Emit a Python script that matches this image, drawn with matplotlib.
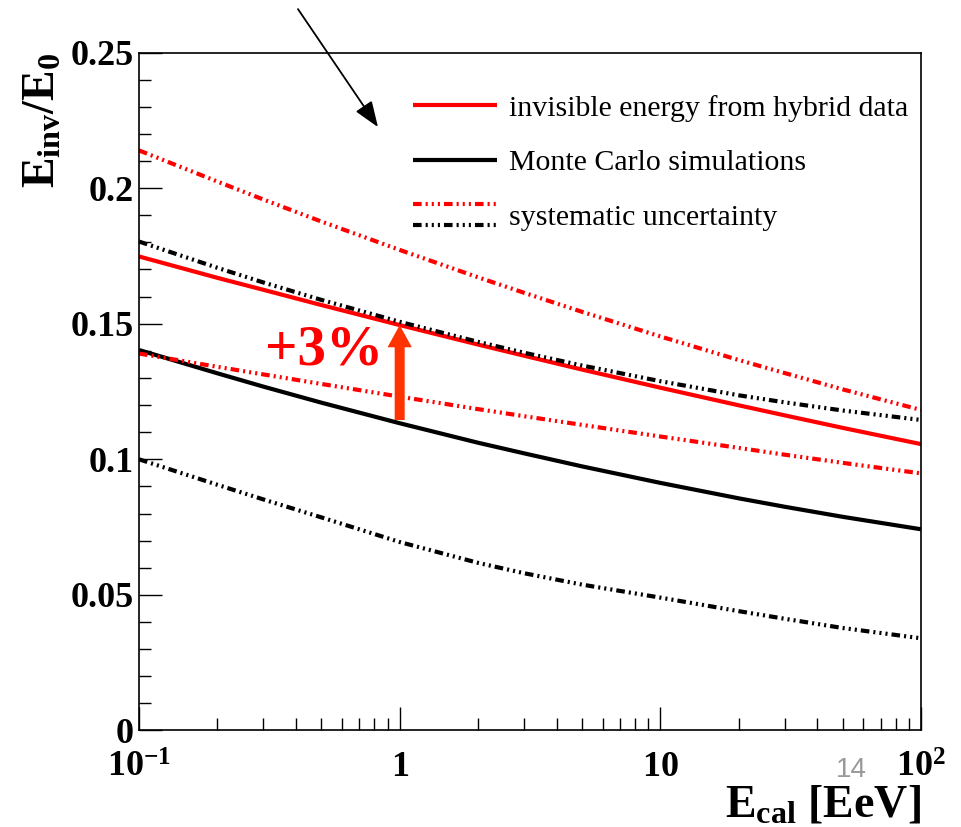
import matplotlib
matplotlib.use("Agg")
import matplotlib.pyplot as plt
from matplotlib.lines import Line2D
from matplotlib.legend_handler import HandlerBase

# ---- data -------------------------------------------------------------
e_cal = [0.1, 0.2, 0.3, 0.5, 1, 2, 3, 5, 10, 20, 30, 50, 100]   # EeV
hybrid = [0.1748, 0.1669, 0.1625, 0.1569, 0.1495, 0.1423, 0.1382,
          0.1331, 0.1264, 0.1199, 0.1162, 0.1116, 0.1056]
mc = [0.1403, 0.1317, 0.1268, 0.1209, 0.1133, 0.1061, 0.1022,
      0.0974, 0.0913, 0.0856, 0.0825, 0.0788, 0.0742]
hybrid_sys_up = [0.2139, 0.2024, 0.1958, 0.1877, 0.1772, 0.1671, 0.1614,
                 0.1544, 0.1453, 0.1366, 0.1318, 0.1258, 0.1182]
hybrid_sys_lo = [0.1390, 0.1341, 0.1313, 0.1278, 0.1231, 0.1185, 0.1159,
                 0.1127, 0.1084, 0.1042, 0.1017, 0.0987, 0.0948]
mc_sys_up = [0.1803, 0.1706, 0.1652, 0.1588, 0.1507, 0.1433, 0.1393,
             0.1346, 0.1288, 0.1236, 0.1210, 0.1180, 0.1145]
mc_sys_lo = [0.1000, 0.0906, 0.0852, 0.0786, 0.0695, 0.0618, 0.0580,
             0.0538, 0.0490, 0.0440, 0.0412, 0.0378, 0.0340]

x_ticks = [0.1, 1, 10, 100]
x_tick_labels = [r"$\mathbf{10^{-1}}$", r"$\mathbf{1}$", r"$\mathbf{10}$", r"$\mathbf{10^{2}}$"]
y_ticks = [0, 0.05, 0.1, 0.15, 0.2, 0.25]
y_tick_labels = ["0", "0.05", "0.1", "0.15", "0.2", "0.25"]

legend_labels = ["invisible energy from hybrid data",
                 "Monte Carlo simulations",
                 "systematic uncertainty"]

shift_label = "+3%"
shift_energy = 1
shift_base = 0.1145

# ---- style ------------------------------------------------------------
plt.rcParams["font.family"] = ["Liberation Serif", "DejaVu Serif"]
plt.rcParams["mathtext.fontset"] = "custom"
plt.rcParams["mathtext.rm"] = "Liberation Serif"
plt.rcParams["mathtext.bf"] = "Liberation Serif:bold"
plt.rcParams["mathtext.it"] = "Liberation Serif:italic"
plt.rcParams["lines.scale_dashes"] = False

RED = "#ff0000"
BLACK = "#000000"
LW = 3.0
DASH3DOT = (0, (6.2, 2.9, 1.5, 2.9, 1.5, 2.9, 1.5, 2.9))

fig = plt.figure(figsize=(9.62, 8.27), dpi=100)
ax = fig.add_axes([0.1445, 0.1167, 0.8129, 0.8198])

l_hyb, = ax.plot(e_cal, hybrid, color=RED, lw=LW, solid_capstyle="butt")
l_mc, = ax.plot(e_cal, mc, color=BLACK, lw=LW, solid_capstyle="butt")
l_hu, = ax.plot(e_cal, hybrid_sys_up, color=RED, lw=LW, linestyle=DASH3DOT)
ax.plot(e_cal, hybrid_sys_lo, color=RED, lw=LW, linestyle=DASH3DOT)
l_mu, = ax.plot(e_cal, mc_sys_up, color=BLACK, lw=LW, linestyle=DASH3DOT)
ax.plot(e_cal, mc_sys_lo, color=BLACK, lw=LW, linestyle=DASH3DOT)

ax.set_xscale("log")
ax.set_xlim(0.1, 100)
ax.set_ylim(0, 0.25)

ax.set_xticks(x_ticks)
ax.set_xticklabels(x_tick_labels)
ax.set_yticks(y_ticks)
ax.set_yticklabels(y_tick_labels)
ax.set_yticks([i * 0.01 for i in range(26)], minor=True)

for lab in ax.get_yticklabels() + ax.get_xticklabels():
    lab.set_fontweight("bold")
    lab.set_fontsize(26)

ax.tick_params(axis="both", which="major", direction="in", length=16.5,
               width=1.0, pad=4, top=False, right=False)
ax.tick_params(axis="x", which="major", pad=15)
ax.tick_params(axis="both", which="minor", direction="in", length=8.5,
               width=1.0, top=False, right=False)
for sp in ax.spines.values():
    sp.set_linewidth(1.2)

ax.set_ylabel(r"$\mathbf{E_{inv}/E_{0}}$", fontsize=33, loc="top", labelpad=4)
ax.set_xlabel(r"$\mathbf{E_{cal}}$ [EeV]", fontsize=33, fontweight="bold",
              loc="right", labelpad=0)


class HandlerStacked(HandlerBase):
    """Draws the lines of a tuple handle one above the other."""

    def create_artists(self, legend, orig_handle, xdescent, ydescent,
                       width, height, fontsize, trans):
        arts = []
        n = len(orig_handle)
        yc = height / 2 - ydescent
        step = 1.0 * height
        for i, h in enumerate(orig_handle):
            y = yc + step * ((n - 1) / 2 - i)
            ln = Line2D([-xdescent, width - xdescent], [y, y])
            ln.update_from(h)
            ln.set_transform(trans)
            arts.append(ln)
        return arts


ax.legend([l_hyb, l_mc, (l_hu, l_mu)], legend_labels,
          handler_map={tuple: HandlerStacked()},
          loc="upper left", bbox_to_anchor=(0.3504, 0.9376),
          frameon=False, fontsize=21.5, handlelength=2.81, handletextpad=0.4,
          labelspacing=0.93, borderpad=0, borderaxespad=0)

# shift between the two solid curves at 1 EeV
shift_top = hybrid[e_cal.index(shift_energy)]
ax.annotate("", xy=(shift_energy, shift_top), xytext=(shift_energy, shift_base),
            arrowprops=dict(arrowstyle="simple,head_length=1.6,head_width=1.75,tail_width=0.72",
                            color="#ff3300", mutation_scale=10,
                            shrinkA=0, shrinkB=0, lw=0))
ax.text(0.305, 0.1348, shift_label, color=RED, fontsize=41, fontweight="bold",
        ha="left", va="baseline")

# pointer arrow entering from above the frame
ax.annotate("", xy=(0.3056, 0.890), xytext=(0.2033, 1.064),
            xycoords="axes fraction", textcoords="axes fraction",
            annotation_clip=False,
            arrowprops=dict(arrowstyle="-|>,head_length=0.45,head_width=0.17",
                            color="black", lw=1.3, mutation_scale=35,
                            shrinkA=0, shrinkB=0))

fig.text(0.8846, 0.069, "14", color="#999999", fontsize=20,
         family=["Liberation Sans", "DejaVu Sans"], ha="center", va="center")

fig.savefig("out.png", dpi=100)
